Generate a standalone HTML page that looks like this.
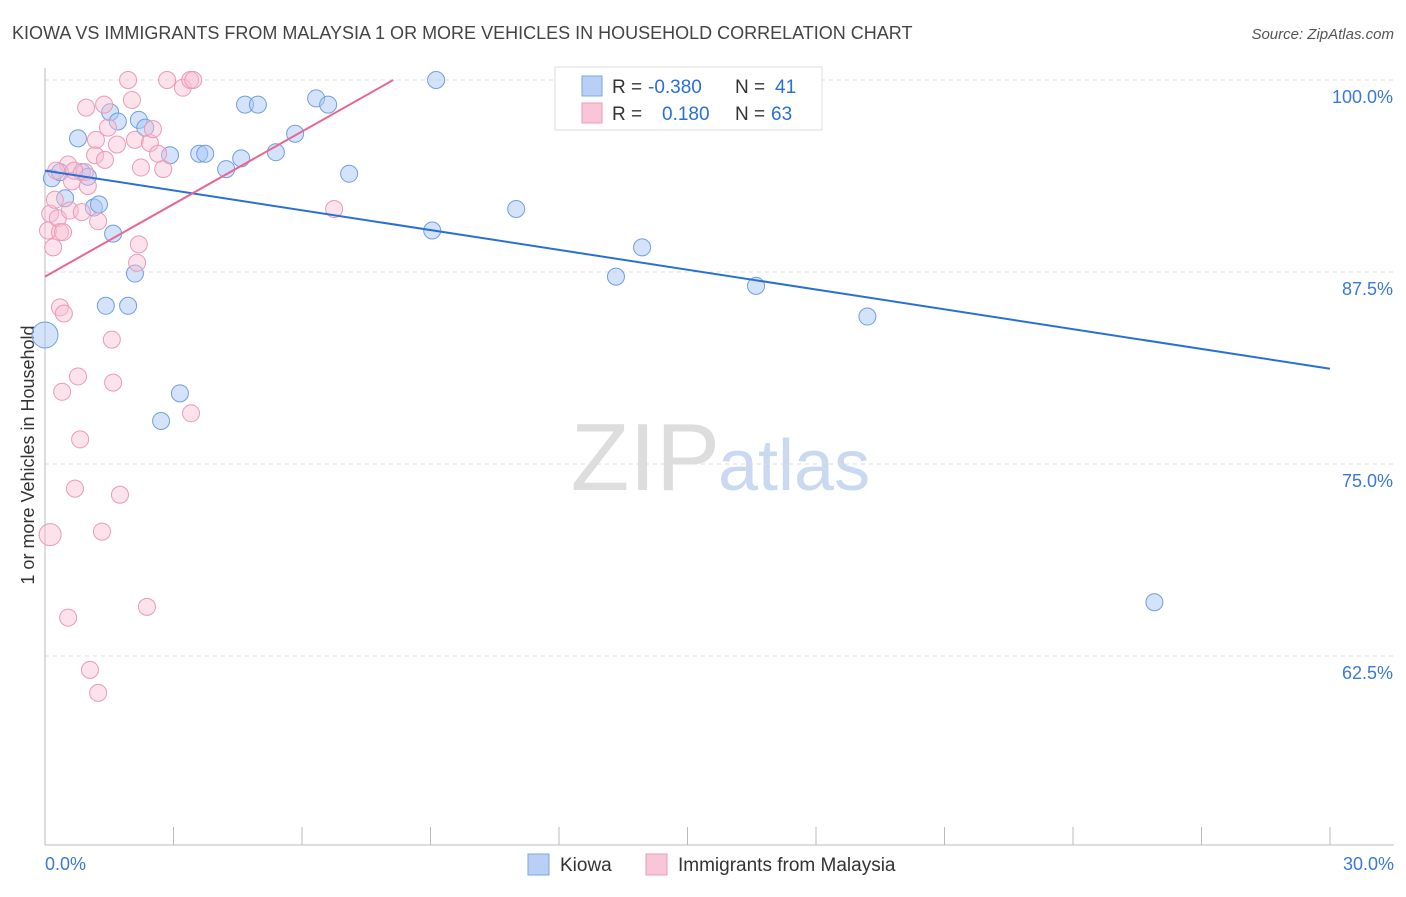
<!DOCTYPE html>
<html><head><meta charset="utf-8"><style>
body{margin:0;background:#fff;font-family:"Liberation Sans",sans-serif;}
svg text{font-family:"Liberation Sans",sans-serif;}
</style></head><body>
<svg id="c" width="1406" height="892" xmlns="http://www.w3.org/2000/svg">
<text x="12" y="39" font-size="18" fill="#444">KIOWA VS IMMIGRANTS FROM MALAYSIA 1 OR MORE VEHICLES IN HOUSEHOLD CORRELATION CHART</text>
<text x="1394" y="39" font-size="15" fill="#555" font-style="italic" text-anchor="end">Source: ZipAtlas.com</text>
<text x="34" y="455" font-size="18" fill="#333" text-anchor="middle" transform="rotate(-90 34 455)">1 or more Vehicles in Household</text>
<text x="720" y="490" font-size="96" fill="#ddd" text-anchor="end" font-family="Liberation Serif">ZIP</text>
<text x="718" y="490" font-size="72" fill="#c9d9ef">atlas</text>
<g id="grid"></g><g id="axes"></g><g id="pts"></g><g id="lines"></g>
<g>
<rect x="555" y="67" width="267" height="63" fill="#fff" stroke="#ddd"/>
<rect x="582" y="76" width="20" height="20" fill="#b8d0f5" stroke="#7aa6e6"/>
<text x="612" y="93" font-size="19" fill="#333">R = </text><text x="648" y="93" font-size="19" fill="#2a6fd6">-0.380</text>
<text x="735" y="93" font-size="19" fill="#333">N = </text><text x="775" y="93" font-size="19" fill="#2a6fd6">41</text>
<rect x="582" y="103" width="20" height="20" fill="#f8c6d6" stroke="#ec9ab5"/>
<text x="612" y="120" font-size="19" fill="#333">R = </text><text x="662" y="120" font-size="19" fill="#2a6fd6">0.180</text>
<text x="735" y="120" font-size="19" fill="#333">N = </text><text x="771" y="120" font-size="19" fill="#2a6fd6">63</text>
</g>
<g>
<rect x="528" y="854" width="21" height="21" fill="#b8d0f5" stroke="#7aa6e6"/>
<text x="560" y="871" font-size="19" fill="#333">Kiowa</text>
<rect x="646" y="854" width="21" height="21" fill="#f8c6d6" stroke="#ec9ab5"/>
<text x="678" y="871" font-size="19" fill="#333">Immigrants from Malaysia</text>
</g>
</svg>
<script>
const yTicks=[100,87.5,75,62.5];
const yTickLabels=["100.0%","87.5%","75.0%","62.5%"];
const xTickLabels=["0.0%","30.0%"];
const kiowaX=[0,0.16,0.35,0.47,0.77,0.86,1.0,1.14,1.26,1.52,1.59,1.42,1.70,1.94,2.10,2.19,2.34,2.71,2.92,3.15,3.60,3.74,4.23,4.58,4.67,4.97,5.39,5.84,6.33,6.61,7.10,9.04,9.13,11.0,13.33,13.94,16.2,16.6,19.2,25.9];
const kiowaY=[83.4,93.6,94.0,92.3,96.2,94.0,93.7,91.7,91.9,97.9,90.0,85.3,97.3,85.3,87.4,97.4,96.9,77.8,95.1,79.6,95.2,95.2,94.2,94.9,98.4,98.4,95.3,96.5,98.8,98.4,93.9,90.2,100,91.6,87.2,89.1,100,86.6,84.6,66.0];
const malX=[0.12,0.07,0.12,0.19,0.23,0.30,0.35,0.40,0.35,0.44,0.54,0.54,0.63,0.70,0.77,0.82,0.58,0.86,0.93,1.0,0.96,1.05,1.17,1.19,1.24,1.24,1.33,1.40,1.38,1.47,1.56,1.59,1.68,1.75,1.94,2.03,2.10,2.15,2.19,2.24,2.38,2.45,2.52,2.64,2.76,2.85,3.22,3.39,3.46,3.41,6.75,0.26,0.68,0.42];
const malY=[70.4,90.2,91.3,89.1,92.2,91.0,90.1,79.7,85.2,84.8,65.0,94.5,93.4,73.4,80.7,76.6,91.5,91.4,94.0,93.1,98.2,61.6,95.1,96.1,60.1,90.8,70.6,94.8,98.4,96.9,83.1,80.3,95.8,73.0,100,98.7,96.1,88.1,89.3,94.3,65.7,95.9,96.8,95.2,94.2,100,99.5,100,100,78.3,91.6,94.1,94.1,90.1];
const kiowaTrend=[94.1,81.2];
const malTrend=[87.2,100];const malTrendEndX=8.13;
const NS="http://www.w3.org/2000/svg";
const X=v=>45+v/30*1285, Y=v=>80+(100-v)*15.36;
function mk(t,a,p){const e=document.createElementNS(NS,t);for(const k in a)e.setAttribute(k,a[k]);p.appendChild(e);return e;}
const grid=document.getElementById('grid'),axes=document.getElementById('axes'),pts=document.getElementById('pts'),lines=document.getElementById('lines');
yTicks.forEach((t,i)=>{
 const l=mk('line',{x1:45,x2:1394,y1:Y(t),y2:Y(t),stroke:'#ddd','stroke-dasharray':'4,4'},grid);
 
 
 const tx=mk('text',{x:1393,y:Y(t)+23,'font-size':18,fill:'#3a78d8','text-anchor':'end'},axes);tx.textContent=yTickLabels[i];
 
 
});
let a=mk('line',{x1:45,x2:45,y1:68,y2:845,stroke:'#bbb'},axes);


a=mk('line',{x1:45,x2:1394,y1:845,y2:845,stroke:'#bbb'},axes);


for(let i=0;i<=10;i++){const t=mk('line',{x1:X(i*3),x2:X(i*3),y1:827,y2:845,stroke:'#bbb'},axes);
 
 }
[[0,'start',45],[30,'end',1394]].forEach((d,i)=>{const t=mk('text',{x:d[2],y:870,'font-size':18,fill:'#3a78d8','text-anchor':d[1]},axes);t.textContent=xTickLabels[i];
 
 });
kiowaX.forEach((x,i)=>{const c=mk('circle',{cx:X(x),cy:Y(kiowaY[i]),r:i==0?13:8.5,fill:'rgba(170,200,245,0.5)',stroke:'#6f9fe0','stroke-width':1},pts);
 
 });
malX.forEach((x,i)=>{const c=mk('circle',{cx:X(x),cy:Y(malY[i]),r:i==0?11:8.5,fill:'rgba(248,190,210,0.45)',stroke:'#ec9ab5','stroke-width':1},pts);
 
 });
let tl=mk('line',{x1:X(0),y1:Y(kiowaTrend[0]),x2:X(30),y2:Y(kiowaTrend[1]),stroke:'#2a6fd6','stroke-width':2},lines);


tl=mk('line',{x1:X(0),y1:Y(malTrend[0]),x2:X(malTrendEndX),y2:Y(malTrend[1]),stroke:'#e8668f','stroke-width':2},lines);


</script>
</body></html>
